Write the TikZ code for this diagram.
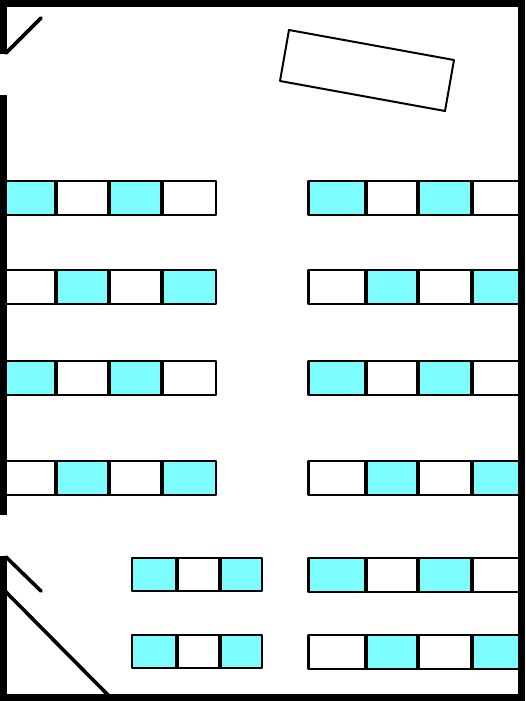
\documentclass[tikz,border=0pt]{standalone}
\usepackage{tikz}

\definecolor{seatcyan}{HTML}{7DFDFF}
\tikzset{
    wall/.style={line width=7.4*0.5669pt},
    door/.style={line width=3.6*0.5669pt, line cap=round},
    desk/.style={line width=2.2*0.5669pt, line join=round},
    deskon/.style={desk, fill=seatcyan}
}

\begin{document}
\begin{tikzpicture}[x=0.02cm, y=-0.02cm]
    \useasboundingbox (0,0) rectangle (525,701);

    % teacher's table
    \draw[line width=2*0.5669pt, line join=round]
        (289,30)
        -- (454,60)
        -- (445,111)
        -- (280,81)
        -- cycle;

    % left rows
    \foreach \top/\stylea/\styleb in {181/deskon/desk, 270/desk/deskon, 361/deskon/desk, 461/desk/deskon} {
        \draw[\stylea] (3,\top) rectangle (55.5,\top+34);
        \draw[\styleb] (56.5,\top) rectangle (108.5,\top+34);
        \draw[\stylea] (109.5,\top) rectangle (161.5,\top+34);
        \draw[\styleb] (162.5,\top) rectangle (216,\top+34);
    }

    % right rows
    \foreach \top/\stylea/\styleb in {181/deskon/desk, 270/desk/deskon, 361/deskon/desk, 461/desk/deskon, 558/deskon/desk, 635/desk/deskon} {
        \draw[\stylea] (308.5,\top) rectangle (365.5,\top+34);
        \draw[\styleb] (366.5,\top) rectangle (417.5,\top+34);
        \draw[\stylea] (418.5,\top) rectangle (471.5,\top+34);
        \draw[\styleb] (472.5,\top) rectangle (522,\top+34);
    }

    % short rows
    \foreach \top in {558,635} {
        \draw[deskon] (132,\top) rectangle (176.5,\top+33);
        \draw[desk] (177.5,\top) rectangle (219.5,\top+33);
        \draw[deskon] (220.5,\top) rectangle (262,\top+33);
    }

    % walls
    \draw[wall]
        (3.5,53.5)
        -- (3.5,3.3)
        -- (521.5,3.3)
        -- (521.5,697.3)
        -- (3.5,697.3)
        -- (3.5,556);
    \draw[wall] (3.5,95) -- (3.5,515);

    % doors
    \draw[door] (6,53) -- (41,18);
    \draw[door] (6,557) -- (41,591);
    \draw[door] (5,591) -- (108,695);
\end{tikzpicture}
\end{document}
